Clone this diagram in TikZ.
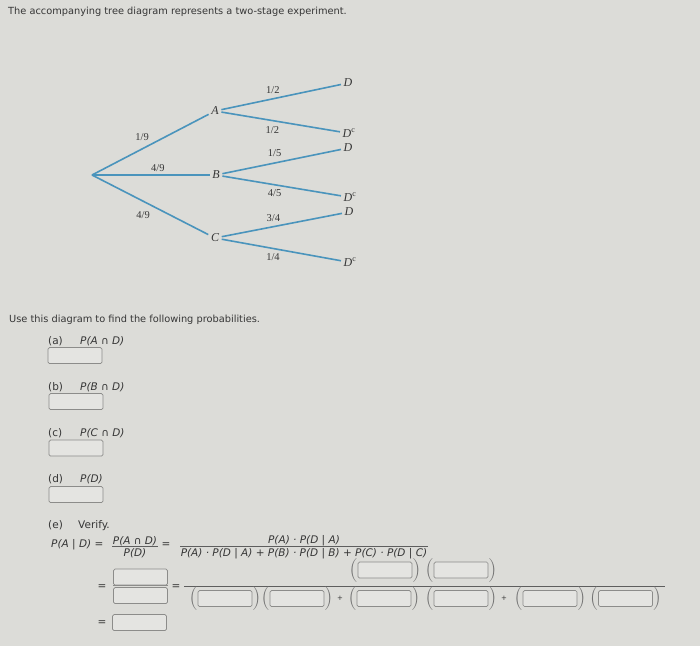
\documentclass[tikz,border=0pt]{standalone}
\usepackage{fontspec}
\newfontfamily\uifont{DejaVu Sans}
\newfontfamily\treefont{Liberation Serif}
\usepackage{xcolor}
\usetikzlibrary{positioning}

\definecolor{paper}{HTML}{DCDCD8}
\definecolor{branchblue}{HTML}{4A94BC}
\definecolor{inkgray}{HTML}{363636}
\definecolor{boxline}{HTML}{8C8C8A}
\definecolor{boxfill}{HTML}{E4E4E1}

\begin{document}
\begin{tikzpicture}[
    x=1pt,y=-1pt,
    every node/.style={text=inkgray},
    branch/.style={draw=branchblue,line width=1.6pt},
    event/.style={font=\treefont\itshape\fontsize{12}{12}\selectfont,inner sep=2.5pt},
    prob/.style={font=\treefont\fontsize{10.5}{11}\selectfont,inner sep=0pt},
    txt/.style={font=\uifont\fontsize{9.8}{12}\selectfont,anchor=west,inner sep=0pt},
    ques/.style={font=\uifont\fontsize{10.5}{12}\selectfont,anchor=west,inner sep=0pt},
    qitem/.style={font=\uifont\itshape\fontsize{10.5}{12}\selectfont,anchor=west,inner sep=0pt},
    frac/.style={font=\uifont\itshape\fontsize{10.5}{12}\selectfont,inner sep=0.5pt},
    ansbox/.style={draw=boxline,fill=boxfill,rounded corners=1.5pt,
      minimum width=54pt,minimum height=16pt,inner sep=0pt,line width=0.7pt},
    paren/.style={font=\fontsize{24}{24}\selectfont,text=inkgray!70,inner sep=0pt},
    bar/.style={draw=inkgray!80,line width=0.6pt}
  ]
  \fill[paper] (0,0) rectangle (700,646);
  \useasboundingbox (0,0) rectangle (700,646);

  \node[txt] (title) at (8,12) {The accompanying tree diagram represents a two-stage experiment.};

  % tree
  \coordinate (root) at (92,175);
  \node[event] (A) at (215,111) {A};
  \node[event] (B) at (216,175) {B};
  \node[event] (C) at (215,238) {C};
  \node[event] (AD) at (348,83) {D};
  \node[event] (ADc) at (347,133) {D\rlap{\textsuperscript{\upshape c}}};
  \node[event] (BD) at (348,148) {D};
  \node[event] (BDc) at (348,197) {D\rlap{\textsuperscript{\upshape c}}};
  \node[event] (CD) at (349,212) {D};
  \node[event] (CDc) at (348,262) {D\rlap{\textsuperscript{\upshape c}}};
  \path[branch] (root) edge node[prob,pos=.43,above=8pt] {1/9} (A)
  edge node[prob,pos=.56,above=2.5pt] {4/9} (B)
  edge node[prob,pos=.44,below=10pt] {4/9} (C)
  (A) edge node[prob,pos=.43,above=4pt] {1/2} (AD)
  edge node[prob,pos=.43,below=5.5pt] {1/2} (ADc)
  (B) edge node[prob,pos=.44,above=5.5pt] {1/5} (BD)
  edge node[prob,pos=.44,below=4.5pt] {4/5} (BDc)
  (C) edge node[prob,pos=.43,above=4pt] {3/4} (CD)
  edge node[prob,pos=.43,below=4.5pt] {1/4} (CDc);

  % questions
  \node[txt] (use) at (9,320) {Use this diagram to find the following probabilities.};
  \node[ques] (pa) at (48,341) {(a)};
  \node[qitem] (qa) at (80,341) {P(A ∩ D)};
  \node[ansbox] (ba) at (75,355.5) {};
  \node[ques] (pb) at (48,387.5) {(b)};
  \node[qitem] (qb) at (80,387.5) {P(B ∩ D)};
  \node[ansbox] (bb) at (76,401.5) {};
  \node[ques] (pc) at (48,433.5) {(c)};
  \node[qitem] (qc) at (80,433.5) {P(C ∩ D)};
  \node[ansbox] (bc) at (76,448) {};
  \node[ques] (pd) at (48,479) {(d)};
  \node[qitem] (qd) at (80,479) {P(D)};
  \node[ansbox] (bd) at (76,494.5) {};

  % part (e)
  \node[ques] (pe) at (48,525.5) {(e)};
  \node[ques] (ve) at (78,525.5) {Verify.};
  \node[qitem] (lhs) at (51,545) {P(A | D) =};
  \node[frac,anchor=south] (f1n) at (135,546.5) {P(A ∩ D)};
  \node[frac,anchor=north] (f1d) at (135,547.5) {P(D)};
  \draw[bar] ([yshift=0.5pt]f1n.south west) -- ([yshift=0.5pt]f1n.south east);
  \node[frac] (eq1) at (166,545) {=};
  \node[frac,anchor=south] (f2n) at (304,546.5) {P(A) · P(D | A)};
  \node[frac,anchor=north] (f2d) at (304,547.5) {P(A) · P(D | A) + P(B) · P(D | B) + P(C) · P(D | C)};
  \draw[bar] ([yshift=1pt]f2d.north west) -- ([yshift=1pt]f2d.north east);

  \node[frac] (eq2) at (102,587) {=};
  \node[ansbox] (top) at (140.5,577) {};
  \node[ansbox] (bot) at (140.5,595.5) {};
  \draw[draw=boxline,line width=1.5pt] (top.south west) -- (top.south east);
  \node[frac] (eq3) at (176,587) {=};
  \draw[bar] (184,586) -- (665,586);
  \node[ansbox] (n1) at (385,570) {};
  \node[ansbox] (n2) at (461,570) {};
  \node[paren,left=-0.5pt of n1] {(};
  \node[paren,right=-0.5pt of n1] {)};
  \node[paren,left=-0.5pt of n2] {(};
  \node[paren,right=-0.5pt of n2] {)};
  \node[ansbox] (d1) at (225,598.5) {};
  \node[ansbox] (d2) at (297,598.5) {};
  \node[ansbox] (d3) at (384,598.5) {};
  \node[ansbox] (d4) at (461,598.5) {};
  \node[ansbox] (d5) at (550,598.5) {};
  \node[ansbox] (d6) at (625.5,598.5) {};
  \node[paren,left=-0.5pt of d1] {(};
  \node[paren,right=-0.5pt of d1] {)};
  \node[paren,left=-0.5pt of d2] {(};
  \node[paren,right=-0.5pt of d2] {)};
  \node[paren,left=-0.5pt of d3] {(};
  \node[paren,right=-0.5pt of d3] {)};
  \node[paren,left=-0.5pt of d4] {(};
  \node[paren,right=-0.5pt of d4] {)};
  \node[paren,left=-0.5pt of d5] {(};
  \node[paren,right=-0.5pt of d5] {)};
  \node[paren,left=-0.5pt of d6] {(};
  \node[paren,right=-0.5pt of d6] {)};
  \node[frac,font=\uifont\fontsize{7}{7}\selectfont] (plus1) at (340,598) {+};
  \node[frac,font=\uifont\fontsize{7}{7}\selectfont] (plus2) at (504,598) {+};

  \node[frac] (eq4) at (102,623) {=};
  \node[ansbox] (res) at (139.5,622.5) {};
\end{tikzpicture}
\end{document}
